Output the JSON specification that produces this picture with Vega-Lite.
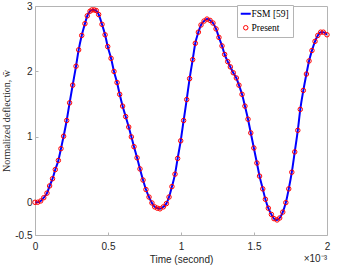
{
  "$schema": "https://vega.github.io/schema/vega-lite/v6.json",
  "width": 292,
  "height": 229,
  "autosize": "none",
  "padding": {"left": 35, "top": 6, "right": 14, "bottom": 30},
  "background": "white",
  "config": {
    "view": {"stroke": "#b4b4b4", "strokeWidth": 1},
    "font": "Liberation Sans",
    "axis": {
      "domain": false,
      "grid": false,
      "ticks": true,
      "tickSize": -3,
      "tickColor": "#b4b4b4",
      "labelFlush": false,
      "labelOverlap": false,
      "labelFont": "Liberation Sans",
      "labelFontSize": 10,
      "labelColor": "#262626"
    }
  },
  "data": {
    "values": [
      {"t": 0, "w": 0}, {"t": 0.018, "w": 0.0}, {"t": 0.039, "w": 0.02}, {"t": 0.06, "w": 0.07},
      {"t": 0.082, "w": 0.14}, {"t": 0.1, "w": 0.25}, {"t": 0.12, "w": 0.36}, {"t": 0.139, "w": 0.5},
      {"t": 0.16, "w": 0.64}, {"t": 0.178, "w": 0.82}, {"t": 0.196, "w": 1.01}, {"t": 0.217, "w": 1.25},
      {"t": 0.237, "w": 1.52}, {"t": 0.258, "w": 1.79}, {"t": 0.281, "w": 2.08}, {"t": 0.299, "w": 2.33},
      {"t": 0.32, "w": 2.55}, {"t": 0.342, "w": 2.73}, {"t": 0.358, "w": 2.85}, {"t": 0.377, "w": 2.92},
      {"t": 0.39, "w": 2.94}, {"t": 0.406, "w": 2.94}, {"t": 0.42, "w": 2.93}, {"t": 0.436, "w": 2.87},
      {"t": 0.459, "w": 2.72}, {"t": 0.48, "w": 2.56}, {"t": 0.498, "w": 2.38}, {"t": 0.521, "w": 2.2},
      {"t": 0.541, "w": 2.0}, {"t": 0.562, "w": 1.83}, {"t": 0.58, "w": 1.65}, {"t": 0.6, "w": 1.47},
      {"t": 0.621, "w": 1.31}, {"t": 0.642, "w": 1.15}, {"t": 0.66, "w": 1.0}, {"t": 0.678, "w": 0.85},
      {"t": 0.699, "w": 0.68}, {"t": 0.719, "w": 0.51}, {"t": 0.74, "w": 0.34}, {"t": 0.76, "w": 0.195},
      {"t": 0.781, "w": 0.08}, {"t": 0.801, "w": -0.01}, {"t": 0.82, "w": -0.07}, {"t": 0.838, "w": -0.09},
      {"t": 0.856, "w": -0.1}, {"t": 0.879, "w": -0.07}, {"t": 0.9, "w": -0.02}, {"t": 0.918, "w": 0.08},
      {"t": 0.938, "w": 0.24}, {"t": 0.959, "w": 0.43}, {"t": 0.977, "w": 0.67}, {"t": 0.998, "w": 0.94},
      {"t": 1.018, "w": 1.25}, {"t": 1.039, "w": 1.57}, {"t": 1.059, "w": 1.89}, {"t": 1.08, "w": 2.18},
      {"t": 1.098, "w": 2.43}, {"t": 1.119, "w": 2.6}, {"t": 1.137, "w": 2.71}, {"t": 1.158, "w": 2.77},
      {"t": 1.178, "w": 2.8}, {"t": 1.199, "w": 2.78}, {"t": 1.219, "w": 2.74}, {"t": 1.24, "w": 2.65},
      {"t": 1.26, "w": 2.52}, {"t": 1.281, "w": 2.39}, {"t": 1.299, "w": 2.26}, {"t": 1.32, "w": 2.15},
      {"t": 1.338, "w": 2.07}, {"t": 1.358, "w": 1.98}, {"t": 1.379, "w": 1.9}, {"t": 1.397, "w": 1.79},
      {"t": 1.418, "w": 1.65}, {"t": 1.438, "w": 1.47}, {"t": 1.459, "w": 1.27}, {"t": 1.478, "w": 1.06},
      {"t": 1.499, "w": 0.83}, {"t": 1.52, "w": 0.6}, {"t": 1.538, "w": 0.4}, {"t": 1.56, "w": 0.205},
      {"t": 1.578, "w": 0.046}, {"t": 1.598, "w": -0.09}, {"t": 1.619, "w": -0.185}, {"t": 1.637, "w": -0.25},
      {"t": 1.658, "w": -0.27}, {"t": 1.676, "w": -0.24}, {"t": 1.697, "w": -0.15}, {"t": 1.718, "w": -0.005},
      {"t": 1.738, "w": 0.205}, {"t": 1.759, "w": 0.46}, {"t": 1.779, "w": 0.77}, {"t": 1.8, "w": 1.1},
      {"t": 1.817, "w": 1.42}, {"t": 1.838, "w": 1.71}, {"t": 1.859, "w": 1.96}, {"t": 1.877, "w": 2.16},
      {"t": 1.897, "w": 2.32}, {"t": 1.918, "w": 2.46}, {"t": 1.937, "w": 2.55}, {"t": 1.957, "w": 2.6},
      {"t": 1.975, "w": 2.6}, {"t": 2.0, "w": 2.56}
    ]
  },
  "layer": [
    {
      "mark": {"type": "line", "strokeWidth": 2, "interpolate": "monotone", "clip": true},
      "encoding": {
        "x": {
          "field": "t", "type": "quantitative",
          "scale": {"domain": [0, 2], "nice": false, "zero": false},
          "axis": {"values": [0, 0.5, 1, 1.5, 2], "labelExpr": "format(datum.value, '~g')", "labelPadding": 9, "title": "Time (second)", "titleFont": "Liberation Sans", "titleFontSize": 10, "titleFontWeight": "normal", "titleColor": "#262626", "titlePadding": 3}
        },
        "y": {
          "field": "w", "type": "quantitative",
          "scale": {"domain": [-0.5, 3], "nice": false, "zero": false},
          "axis": {"values": [-0.5, 0, 1, 2, 3], "labelExpr": "replace(format(datum.value, '~g'), '\u2212', '-')", "labelPadding": 6, "title": "Normalized deflection, w\u0304", "titleFont": "Liberation Serif", "titleFontSize": 10, "titleFontWeight": "normal", "titleColor": "#262626", "titlePadding": 3}
        },
        "color": {
          "datum": "FSM [59]", "type": "nominal",
          "scale": {"domain": ["FSM [59]", "Present"], "range": ["#0000ff", "#ff0000"]},
          "legend": {
            "orient": "none", "legendX": 202, "legendY": -1, "title": null,
            "labelFont": "Liberation Serif", "labelFontSize": 9.5, "labelColor": "#000000",
            "symbolSize": 400, "symbolType": "stroke", "symbolStrokeWidth": 2,
            "fillColor": "white", "strokeColor": "#b4b4b4", "padding": 4, "rowPadding": 3, "labelOffset": 1,
            "encode": {
              "symbols": {
                "update": {
                  "size": {"signal": "datum.value === 'Present' ? 20 : 100"},
                  "shape": {"signal": "datum.value === 'Present' ? 'circle' : 'stroke'"},
                  "strokeWidth": {"signal": "datum.value === 'Present' ? 1 : 2"},
                  "fill": {"value": "transparent"},
                  "stroke": {"signal": "datum.value === 'Present' ? '#ff0000' : '#0000ff'"}
                }
              }
            }
          }
        }
      }
    },
    {
      "mark": {"type": "point", "filled": false, "size": 20, "strokeWidth": 1, "opacity": 1, "clip": false},
      "encoding": {
        "x": {"field": "t", "type": "quantitative"},
        "y": {"field": "w", "type": "quantitative"},
        "color": {"datum": "Present", "type": "nominal"}
      }
    },
    {
      "data": {"values": [{"t": 2, "w": -0.5, "label": "\u00d710\u207b\u00b3"}]},
      "mark": {"type": "text", "align": "right", "baseline": "alphabetic", "dy": 27, "font": "Liberation Sans", "fontSize": 10, "fill": "#262626", "clip": false},
      "encoding": {
        "x": {"field": "t", "type": "quantitative"},
        "y": {"field": "w", "type": "quantitative"},
        "text": {"field": "label", "type": "nominal"}
      }
    }
  ]
}
